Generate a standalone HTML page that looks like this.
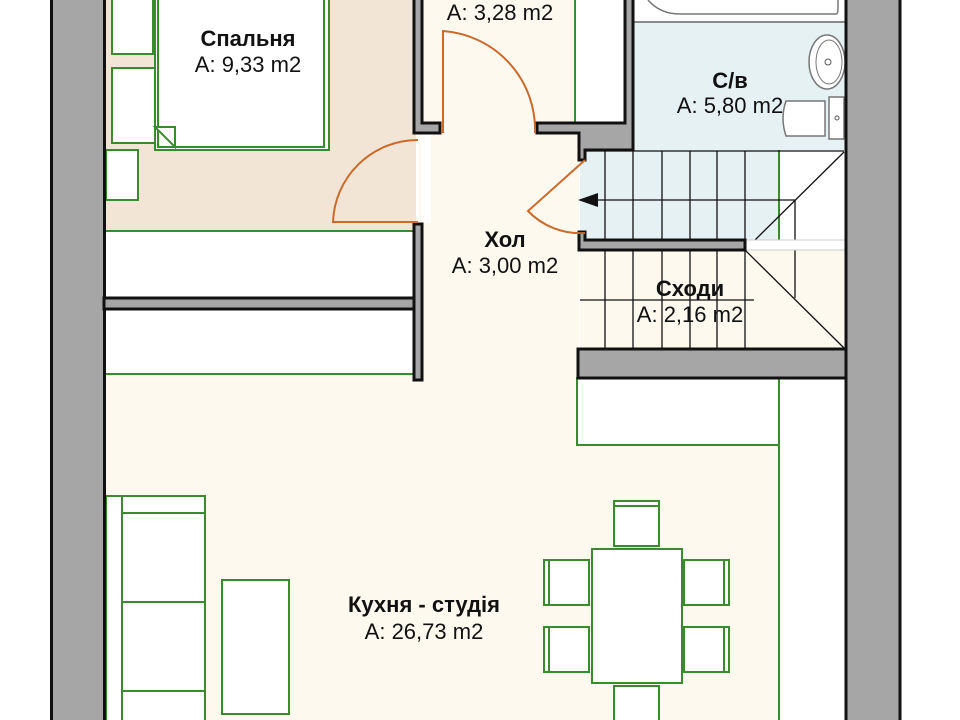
<!DOCTYPE html>
<html><head><meta charset="utf-8"><style>
html,body{margin:0;padding:0;background:#fff;}
svg{display:block;font-family:"Liberation Sans","DejaVu Sans",sans-serif;}
.t{font-size:22px;fill:#111;text-anchor:middle}
.b{font-weight:bold}
</style></head><body>
<svg width="960" height="720" viewBox="0 0 960 720" xmlns="http://www.w3.org/2000/svg">
<rect width="960" height="720" fill="#fff"/>
<rect x="106" y="0" width="310" height="231" fill="#f2e5d5"/>
<rect x="419" y="0" width="160" height="380" fill="#fdf9ef"/>
<rect x="106" y="374" width="740" height="346" fill="#fdf9ef"/>
<rect x="633" y="0" width="212" height="150" fill="#e6f1f3"/>
<rect x="580" y="150" width="200" height="90" fill="#e6f1f3"/>
<rect x="580" y="250" width="264" height="100" fill="#fdf9ef"/>
<rect x="421" y="133" width="10" height="90" fill="#fff"/>
<g fill="#fff" stroke="#3a8a2e" stroke-width="2">
<rect x="112" y="-5" width="41" height="59"/>
<rect x="112" y="68" width="47" height="75"/>
<rect x="155" y="-5" width="174" height="155"/>
<rect x="158" y="-5" width="166" height="152"/>
<rect x="106" y="150" width="32" height="50"/>
<rect x="106" y="231" width="310" height="66" stroke="none"/>
<rect x="106" y="310" width="310" height="64" stroke="none"/>
<rect x="575" y="-5" width="50" height="128" stroke="none"/>
<rect x="577" y="378" width="202" height="67"/>
<rect x="779" y="378" width="66" height="345" stroke="none"/>
<rect x="106" y="496" width="99" height="230"/>
<rect x="222" y="580" width="67" height="134"/>
<rect x="592" y="549" width="90" height="134"/>
<rect x="614" y="501" width="45" height="45"/>
<rect x="544" y="560" width="45" height="45"/>
<rect x="544" y="627" width="45" height="45"/>
<rect x="684" y="560" width="45" height="45"/>
<rect x="684" y="627" width="45" height="45"/>
<rect x="614" y="686" width="45" height="40"/>
</g>
<g stroke="#3a8a2e" stroke-width="2" fill="none">
<path d="M155 127 L175 127 L175 147 Z" fill="#fff"/>
<line x1="106" y1="231" x2="416" y2="231"/>
<line x1="106" y1="374" x2="416" y2="374"/>
<line x1="575" y1="0" x2="575" y2="123"/>
<line x1="779" y1="150" x2="779" y2="240"/>
<line x1="779" y1="378" x2="779" y2="720"/>
<line x1="122" y1="496" x2="122" y2="720"/>
<line x1="122" y1="513" x2="205" y2="513"/>
<line x1="122" y1="602" x2="205" y2="602"/>
<line x1="122" y1="691" x2="205" y2="691"/>
<line x1="614" y1="506" x2="659" y2="506"/>
<line x1="549" y1="560" x2="549" y2="605"/>
<line x1="549" y1="627" x2="549" y2="672"/>
<line x1="724" y1="560" x2="724" y2="605"/>
<line x1="724" y1="627" x2="724" y2="672"/>
</g>
<rect x="633" y="0" width="212" height="22" fill="#fff"/>
<line x1="633" y1="22" x2="845" y2="22" stroke="#666" stroke-width="1.5"/>
<path d="M648 0 Q660 14 680 14 L836 14 Q838 14 838 8 L838 0" fill="none" stroke="#777" stroke-width="1.5"/>
<ellipse cx="827" cy="62" rx="18" ry="27" fill="#fff" stroke="#777" stroke-width="1.5"/>
<ellipse cx="829" cy="62" rx="13" ry="22" fill="none" stroke="#777"/>
<circle cx="828" cy="62" r="3" fill="none" stroke="#555"/>
<path d="M825 101 L786 101 Q780 118 786 136 L825 136 Z" fill="#fff" stroke="#777" stroke-width="1.5"/>
<rect x="829" y="97" width="15" height="42" fill="#fff" stroke="#777" stroke-width="1.5"/>
<circle cx="837" cy="118" r="2" fill="none" stroke="#555"/>
<g stroke="#111" stroke-width="1.3" fill="none">
<line x1="580" y1="151" x2="844" y2="151"/>
<line x1="580" y1="300" x2="754" y2="300"/>
<path d="M605 151V240 M633 151V240 M662 151V240 M690 151V240 M717 151V240 M745 151V240"/>
<path d="M605 250V348 M633 250V348 M662 250V348 M690 250V348 M717 250V348 M745 250V348"/>
<line x1="595" y1="200" x2="795" y2="200"/>
<line x1="795" y1="200" x2="795" y2="298"/>
<line x1="755" y1="240" x2="844" y2="152"/>
<line x1="745" y1="250" x2="844" y2="348"/>
</g>
<polygon points="578,200 598,193 598,207" fill="#111"/>
<rect x="745" y="240" width="100" height="10" fill="#fff" stroke="#ccc"/>
<g fill="#a6a6a6" stroke="#111" stroke-width="3">
<rect x="51.5" y="-5" width="53" height="730"/>
<rect x="846" y="-5" width="54" height="730"/>
<rect x="104" y="298" width="312" height="11"/>
<path d="M414 -5 L414 133 L440 133 L440 123 L422 123 L422 -5 Z"/>
<path d="M414 224 L414 380 L422 380 L422 224 Z"/>
<path d="M537 123 L537 133 L579 133 L579 160 L585 160 L585 150 L633 150 L633 -5 L625 -5 L625 123 Z"/>
<path d="M579 232 L579 250 L745 250 L745 240 L585 240 L585 232 Z"/>
<rect x="578" y="349" width="268" height="29"/>
</g>
<g stroke="#cc6a2a" stroke-width="2" fill="none">
<path d="M418 222 L333 222 A85 85 0 0 1 418 140"/>
<path d="M443 133 L443 31 A99 99 0 0 1 535 133"/>
<path d="M585 160 L528 211 A72 72 0 0 0 585 233"/>
</g>
<text class="t b" x="248" y="46">Спальня</text>
<text class="t" x="248" y="72">A: 9,33 m2</text>
<text class="t" x="500" y="20">A: 3,28 m2</text>
<text class="t b" x="730" y="88">С/в</text>
<text class="t" x="730" y="113">A: 5,80 m2</text>
<text class="t b" x="505" y="247">Хол</text>
<text class="t" x="505" y="273">A: 3,00 m2</text>
<text class="t b" x="690" y="296">Сходи</text>
<text class="t" x="690" y="322">A: 2,16 m2</text>
<text class="t b" x="424" y="612">Кухня - студія</text>
<text class="t" x="424" y="639">A: 26,73 m2</text>
</svg>
</body></html>
